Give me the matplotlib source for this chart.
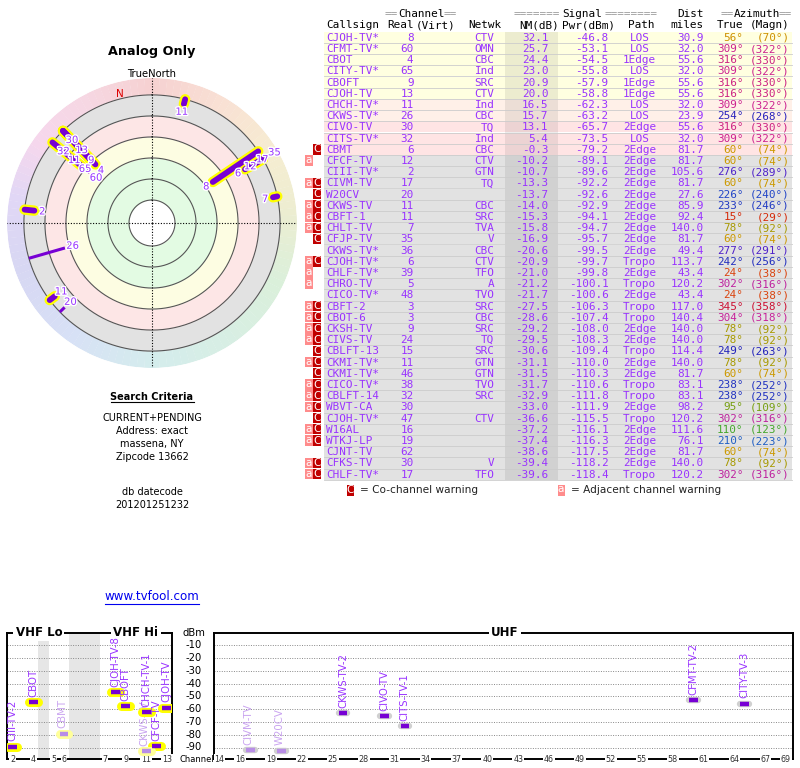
import numpy as np
import matplotlib.pyplot as plt
from matplotlib.patches import Rectangle
from matplotlib import patheffects as pe
from matplotlib.transforms import blended_transform_factory
from matplotlib.colors import to_rgb

# ---- station table ----
callsigns = ["CJOH-TV*", "CFMT-TV*", "CBOT", "CITY-TV*", "CBOFT", "CJOH-TV", "CHCH-TV*",
             "CKWS-TV*", "CIVO-TV", "CITS-TV*", "CBMT", "CFCF-TV", "CIII-TV*", "CIVM-TV",
             "W20CV", "CKWS-TV", "CBFT-1", "CHLT-TV", "CFJP-TV", "CKWS-TV*", "CJOH-TV*",
             "CHLF-TV*", "CHRO-TV", "CICO-TV*", "CBFT-2", "CBOT-6", "CKSH-TV", "CIVS-TV",
             "CBLFT-13", "CKMI-TV*", "CKMI-TV*", "CICO-TV*", "CBLFT-14", "WBVT-CA",
             "CJOH-TV*", "W16AL", "WTKJ-LP", "CJNT-TV", "CFKS-TV", "CHLF-TV*"]
channels = [8, 60, 4, 65, 9, 13, 11, 26, 30, 32, 6, 12, 2, 17, 20, 11, 11, 7, 35, 36,
            6, 39, 5, 48, 3, 3, 9, 24, 15, 11, 46, 38, 32, 30, 47, 16, 19, 62, 30, 17]
networks = ["CTV", "OMN", "CBC", "Ind", "SRC", "CTV", "Ind", "CBC", "TQ", "Ind", "CBC", "CTV",
            "GTN", "TQ", "", "CBC", "SRC", "TVA", "V", "CBC", "CTV", "TFO", "A", "TVO", "SRC",
            "CBC", "SRC", "TQ", "SRC", "GTN", "GTN", "TVO", "SRC", "", "CTV", "", "", "", "V", "TFO"]
nm = [32.1, 25.7, 24.4, 23.0, 20.9, 20.0, 16.5, 15.7, 13.1, 5.4, -0.3, -10.2, -10.7, -13.3,
      -13.7, -14.0, -15.3, -15.8, -16.9, -20.6, -20.9, -21.0, -21.2, -21.7, -27.5, -28.6,
      -29.2, -29.5, -30.6, -31.1, -31.5, -31.7, -32.9, -33.0, -36.6, -37.2, -37.4, -38.6,
      -39.4, -39.6]
pwr = [-46.8, -53.1, -54.5, -55.8, -57.9, -58.8, -62.3, -63.2, -65.7, -73.5, -79.2, -89.1,
       -89.6, -92.2, -92.6, -92.9, -94.1, -94.7, -95.7, -99.5, -99.7, -99.8, -100.1, -100.6,
       -106.3, -107.4, -108.0, -108.3, -109.4, -110.0, -110.3, -110.6, -111.8, -111.9,
       -115.5, -116.1, -116.3, -117.5, -118.2, -118.4]
paths = ["LOS", "LOS", "1Edge", "LOS", "1Edge", "1Edge", "LOS", "LOS", "2Edge", "LOS",
         "2Edge", "2Edge", "2Edge", "2Edge", "2Edge", "2Edge", "2Edge", "2Edge", "2Edge",
         "2Edge", "Tropo", "2Edge", "Tropo", "2Edge", "Tropo", "Tropo", "2Edge", "2Edge",
         "Tropo", "2Edge", "2Edge", "Tropo", "Tropo", "2Edge", "Tropo", "2Edge", "2Edge",
         "2Edge", "2Edge", "Tropo"]
dist = [30.9, 32.0, 55.6, 32.0, 55.6, 55.6, 32.0, 23.9, 55.6, 32.0, 81.7, 81.7, 105.6, 81.7,
        27.6, 85.9, 92.4, 140.0, 81.7, 49.4, 113.7, 43.4, 120.2, 43.4, 117.0, 140.4, 140.0,
        140.0, 114.4, 140.0, 81.7, 83.1, 83.1, 98.2, 120.2, 111.6, 76.1, 81.7, 140.0, 120.2]
az_true = [56, 309, 316, 309, 316, 316, 309, 254, 316, 309, 60, 60, 276, 60, 226, 233, 15,
           78, 60, 277, 242, 24, 302, 24, 345, 304, 78, 78, 249, 78, 60, 238, 238, 95, 302,
           110, 210, 60, 78, 302]
az_magn = [70, 322, 330, 322, 330, 330, 322, 268, 330, 322, 74, 74, 289, 74, 240, 246, 29,
           92, 74, 291, 256, 38, 316, 38, 358, 318, 92, 92, 263, 92, 74, 252, 252, 109, 316,
           123, 223, 74, 92, 316]
warnings = ["", "", "", "", "", "", "", "", "", "", "C", "a", "", "aC", "C", "aC", "aC", "aC",
            "C", "", "aC", "a", "a", "", "aC", "aC", "aC", "aC", "C", "aC", "C", "aC", "aC",
            "aC", "C", "aC", "aC", "", "aC", "aC"]
# names used in the channel chart (first rows only)
chart_names = ["CJOH-TV-8", "CFMT-TV-2", "CBOT", "CITY-TV-3", "CBOFT", "CJOH-TV",
               "CHCH-TV-1", "CKWS-TV-2", "CIVO-TV", "CITS-TV-1", "CBMT", "CFCF-TV",
               "CIII-TV-2", "CIVM-TV", "W20CV", "CKWS-TV"]

criteria = ["CURRENT+PENDING", "Address: exact", "massena, NY", "Zipcode 13662"]
datecode = "201201251232"

vhf_slot = {2: 0, 3: 1, 4: 2, 5: 4, 6: 5, 7: 9, 8: 10, 9: 11, 10: 12, 11: 13, 12: 14, 13: 15}
vhf_ticks = [2, 4, 5, 6, 7, 9, 11, 13]
uhf_ticks = [14, 16, 19, 22, 25, 28, 31, 34, 37, 40, 43, 46, 49, 52, 55, 58, 61, 64, 67, 69]
dbm_levels = [-10, -20, -30, -40, -50, -60, -70, -80, -90]
nm_rings = [80, 60, 40, 20, 0, -20]

PURPLE = '#9933ff'
LINE = '#7700d4'
FADED = '#c9a3f0'
MONO = 'DejaVu Sans Mono'

az_stops = [0, 30, 60, 85, 115, 180, 215, 250, 280, 305, 330, 360]
az_cols = ['#cc0000', '#dd5511', '#cc9900', '#999900', '#33aa33', '#119999',
           '#2255cc', '#2222bb', '#5522cc', '#cc2299', '#cc2266', '#cc0000']
az_rgb = np.array([to_rgb(c) for c in az_cols])


def az_color(a):
    return tuple(np.interp(a % 360, az_stops, az_rgb[:, k]) for k in range(3))


def pastel(a, f=0.18):
    c = np.array(az_color(a))
    return tuple(1 - f * (1 - c))


def row_bg(v):
    if v >= 19.5:
        return '#ffffe0'
    if v >= 15:
        return '#fff0e8'
    if v >= -1:
        return '#ffe4e4'
    return '#e2e2e2'


W, H = 800, 768
fig = plt.figure(figsize=(W / 100, H / 100), dpi=100)


def rect(x0, y0, x1, y1):
    return [x0 / W, 1 - y1 / H, (x1 - x0) / W, (y1 - y0) / H]


lay = fig.add_axes([0, 0, 1, 1])
lay.set_xlim(0, W)
lay.set_ylim(H, 0)
lay.axis('off')

# ---------------- table ----------------
FS = 7.9
ROW0, ROWH = 37.3, 11.2
TX0, TX1 = 324, 792
n = len(callsigns)
for i in range(n):
    y = ROW0 + i * ROWH
    lay.add_patch(Rectangle((TX0, y - ROWH / 2), TX1 - TX0, ROWH,
                            facecolor=row_bg(nm[i]), edgecolor='none'))
    lay.plot([TX0, TX1], [y + ROWH / 2] * 2, color='#cccccc', lw=0.6)
lay.add_patch(Rectangle((504.5, ROW0 - ROWH / 2), 53.5, n * ROWH,
                        facecolor='black', alpha=0.075, edgecolor='none'))

# group headings: grey '=' runs either side of a black word
for word, x0, x1, left, right in [("Channel", 400, 442, "==", "=="),
                                  ("Signal", 562, 603, "=======", "========"),
                                  ("Azimuth", 736, 777, "==", "==")]:
    lay.text((x0 + x1) / 2, 14, word, family=MONO, fontsize=FS, ha='center', va='center')
    lay.text(x0 - 2, 14, left, family=MONO, fontsize=FS, color='#999999', ha='right', va='center')
    lay.text(x1 + 2, 14, right, family=MONO, fontsize=FS, color='#999999', ha='left', va='center')
lay.text(703.5, 14, "Dist", family=MONO, fontsize=FS, ha='right', va='center')
hdr = [("Callsign", 326, 'left'), ("Real", 413.5, 'right'), ("(Virt)", 415.5, 'left'),
       ("Netwk", 501, 'right'), ("NM(dB)", 558.5, 'right'), ("Pwr(dBm)", 615, 'right'),
       ("Path", 641, 'center'), ("miles", 703.5, 'right'), ("True", 743.5, 'right'),
       ("(Magn)", 789.5, 'right')]
for s, x, ha in hdr:
    lay.text(x, 25.5, s, family=MONO, fontsize=FS, ha=ha, va='center')

for i in range(n):
    y = ROW0 + i * ROWH + 0.5
    kw = dict(family=MONO, fontsize=FS, va='center', color=PURPLE)
    lay.text(326, y, callsigns[i], ha='left', **kw)
    lay.text(413.5, y, str(channels[i]), ha='right', **kw)
    lay.text(494.5, y, networks[i], ha='right', **kw)
    lay.text(548.5, y, f"{nm[i]:.1f}", ha='right', **kw)
    lay.text(608.5, y, f"{pwr[i]:.1f}", ha='right', **kw)
    lay.text(639.5, y, paths[i], ha='center', **kw)
    lay.text(703.5, y, f"{dist[i]:.1f}", ha='right', **kw)
    kw['color'] = az_color(az_true[i])
    lay.text(743.5, y, f"{az_true[i]}°", ha='right', **kw)
    lay.text(789.5, y, f"({az_magn[i]}°)", ha='right', **kw)
    yb = ROW0 + i * ROWH - ROWH / 2 + 0.4
    if 'a' in warnings[i]:
        lay.add_patch(Rectangle((305, yb), 7.6, ROWH - 0.8, facecolor='#ff8c8c', edgecolor='none'))
        lay.text(308.8, y - 0.8, 'a', color='white', fontsize=7.5, ha='center', va='center')
    if 'C' in warnings[i]:
        lay.add_patch(Rectangle((312.6, yb), 8.6, ROWH - 0.8, facecolor='#c00000', edgecolor='none'))
        lay.text(316.9, y - 0.5, 'C', color='white', fontsize=7.5, ha='center', va='center')

# legend of warning boxes
lay.add_patch(Rectangle((346.5, 484.5), 7, 11, facecolor='#c00000', edgecolor='none'))
lay.text(350, 490, 'C', color='white', fontsize=7.5, ha='center', va='center')
lay.text(360, 490, '= Co-channel warning', fontsize=7.6, va='center', color='#222222')
lay.add_patch(Rectangle((557.5, 484.5), 7, 11, facecolor='#ff8c8c', edgecolor='none'))
lay.text(561, 489.5, 'a', color='white', fontsize=7.5, ha='center', va='center')
lay.text(571, 490, '= Adjacent channel warning', fontsize=7.6, va='center', color='#222222')

# ---------------- left text block ----------------
lay.text(152, 52, "Analog Only", fontsize=9.2, weight='bold', ha='center', va='center')
lay.text(152, 74, "TrueNorth", fontsize=7.2, ha='center', va='center')
t_sc = lay.text(152, 397, "Search Criteria", fontsize=7, weight='bold', ha='center', va='center')
for k, s in enumerate(criteria):
    lay.text(152, 418 + k * 13, s, fontsize=7, ha='center', va='center')
lay.text(152, 492, "db datecode", fontsize=7, ha='center', va='center')
lay.text(152, 505, datecode, fontsize=7, ha='center', va='center')
t_url = lay.text(152, 597, "www.tvfool.com", fontsize=8.6, color='#0000ee', ha='center', va='center')

# ---------------- polar plot ----------------
pol = fig.add_axes(rect(7, 78, 297, 368), projection='polar')
pol.set_theta_zero_location('N')
pol.set_theta_direction(-1)
pol.set_ylim(0, 138)
pol.axis('off')


def rr(v):
    return 101.9 - v


theta = np.linspace(0, 2 * np.pi, 361)
for a in np.arange(0, 360, 3):
    pol.bar(np.radians(a + 1.5), 138 - rr(-20), width=np.radians(3.1), bottom=rr(-20),
            color=pastel(a + 1.5), linewidth=0)
for hi, lo, c in [(80, 40, '#e3fbe3'), (40, 20, '#fdfde2'), (20, 0, '#fde6e6'), (0, -20, '#e2e2e2')]:
    pol.fill_between(theta, rr(hi), rr(lo), color=c, lw=0)
for v in nm_rings:
    pol.plot(theta, np.full_like(theta, rr(v)), color='#555555', lw=0.8)
for t in [0, 90, 180, 270]:
    pol.plot([np.radians(t)] * 2, [0, 138], color='black', ls=(0, (1, 1.5)), lw=0.8)

sel = [i for i in range(n) if nm[i] >= -20]
for i in sel:
    if channels[i] <= 13:
        pol.plot([np.radians(az_true[i])] * 2, [rr(nm[i]), rr(-20)], color='#ffff00',
                 lw=7.5, solid_capstyle='round')
for i in sel:
    vhf = channels[i] <= 13
    pol.plot([np.radians(az_true[i])] * 2, [rr(nm[i]), rr(-20)], color=LINE,
             lw=4.2 if vhf else 2.2, solid_capstyle='round' if vhf else 'butt')

# channel labels, stacked outward where several stations share a bearing
by_az = {}
for i in sel:
    by_az.setdefault(az_true[i], []).append(i)
halo = [pe.withStroke(linewidth=2, foreground='white')]
for a, idx in by_az.items():
    idx.sort(key=lambda i: rr(nm[i]))
    prev = -1e9
    for i in idx:
        r = max(rr(nm[i]) - 7.6, prev + 13.3)
        prev = r
        pol.text(np.radians(a), r, str(channels[i]), color=PURPLE, fontsize=7.2,
                 ha='center', va='center', path_effects=halo)
pol.text(np.radians(346), 126.6, 'N', color='#dd0000', fontsize=7.5, ha='center', va='center')

# ---------------- channel chart ----------------
vax = fig.add_axes(rect(6.7, 632.5, 172, 759))
uax = fig.add_axes(rect(214, 632.5, 792.7, 759))
vax.set_xlim(-0.58, 15.51)
uax.set_xlim(13.47, 69.65)
for ax in (vax, uax):
    ax.set_ylim(-99, 0)
    ax.set_xticks([])
    ax.set_yticks([])
    for sp in ax.spines.values():
        sp.set_linewidth(1.4)
    for lvl in dbm_levels:
        ax.axhline(lvl, color='#888888', lw=0.7, ls=(0, (1, 1.5)), zorder=1)
for a, b in [(2.5, 3.5), (5.5, 8.5)]:
    vax.axvspan(a, b, color='#e6e6e6', lw=0, zorder=0)

tb = dict(facecolor='white', edgecolor='none', pad=1.5)
vax.text(0.195, 1.0, "VHF Lo", transform=vax.transAxes, fontsize=8.5, weight='bold',
         ha='center', va='center', bbox=tb)
vax.text(0.782, 1.0, "VHF Hi", transform=vax.transAxes, fontsize=8.5, weight='bold',
         ha='center', va='center', bbox=tb)
uax.text(0.503, 1.0, "UHF", transform=uax.transAxes, fontsize=8.5, weight='bold',
         ha='center', va='center', bbox=tb)
lb = dict(facecolor='white', edgecolor='none', pad=0.6)
for c in vhf_ticks:
    vax.text(vhf_slot[c], -99, str(c), fontsize=5.8, color='#333333', ha='center',
             va='center', bbox=lb, clip_on=False)
for c in uhf_ticks:
    uax.text(c, -99, str(c), fontsize=5.8, color='#333333', ha='center', va='center',
             bbox=lb, clip_on=False)

tr = blended_transform_factory(vax.transAxes, vax.transData)
for lvl in dbm_levels:
    vax.text(1.133, lvl, str(lvl), transform=tr, fontsize=7.2, ha='center', va='center')
vax.text(1.133, 0, "dBm", transform=tr, fontsize=7.2, ha='center', va='center')
vax.text(1.15, -99, "Channel", transform=tr, fontsize=6, ha='center', va='center')

for i in range(n):
    if pwr[i] <= -94:
        continue
    faded = 'C' in warnings[i]
    vhf = channels[i] <= 13
    ax = vax if vhf else uax
    x = vhf_slot[channels[i]] if vhf else channels[i]
    xs = [x - 0.42, x + 0.42]
    if vhf:
        ax.plot(xs, [pwr[i]] * 2, color='#ffff99' if faded else '#ffff00', lw=6.5,
                solid_capstyle='round', zorder=3)
    else:
        ax.plot(xs, [pwr[i]] * 2, color='#d0d0d0', lw=4.6, solid_capstyle='round', zorder=3)
    ax.plot(xs, [pwr[i]] * 2, color='#b88de6' if faded else LINE, lw=3.2,
            solid_capstyle='butt', zorder=4)
    ax.annotate(chart_names[i], (x, pwr[i]), xytext=(-1.5 if faded else 0, 4),
                textcoords='offset points', rotation=90, ha='center', va='bottom',
                fontsize=7.3, color=FADED if faded else PURPLE, zorder=2 if faded else 5)

# underlines
fig.canvas.draw()
inv = lay.transData.inverted()
for t, col in [(t_sc, 'black'), (t_url, '#0000ee')]:
    bb = t.get_window_extent().transformed(inv)
    yb = max(bb.y0, bb.y1) + 0.3
    lay.plot([bb.x0, bb.x1], [yb, yb], color=col, lw=0.8)

fig.savefig('out.png', dpi=100)
